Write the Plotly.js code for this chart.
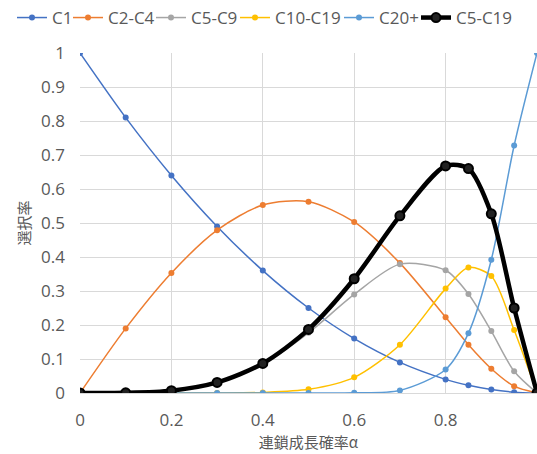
<!DOCTYPE html>
<html><head><meta charset="utf-8">
<script src="https://cdn.plot.ly/plotly-3.0.1.min.js"></script>
<style>html,body{margin:0;padding:0;background:#fff;}#chart{width:537px;height:454px;}</style>
</head><body><div id="chart"></div>
<script>
const alpha = [0, 0.1, 0.2, 0.3, 0.4, 0.5, 0.6, 0.7, 0.8, 0.85, 0.9, 0.95, 1.0];
const c1      = [1.0, 0.81, 0.64, 0.49, 0.36, 0.25, 0.16, 0.09, 0.04, 0.0225, 0.01, 0.0025, 0];
const c2c4    = [0, 0.19, 0.353, 0.479, 0.553, 0.5625, 0.503, 0.382, 0.223, 0.142, 0.0715, 0.02, 0];
const c5c9    = [0, 0.0005, 0.0067, 0.0306, 0.0854, 0.177, 0.29, 0.379, 0.361, 0.291, 0.182, 0.064, 0];
const c10c19  = [0, 0, 0, 0.0001, 0.0017, 0.0107, 0.046, 0.142, 0.307, 0.369, 0.344, 0.185, 0];
const c20p    = [0, 0, 0, 0, 0, 0, 0.0005, 0.0076, 0.069, 0.176, 0.392, 0.728, 1.0];
const c5c19   = [0, 0.0005, 0.0067, 0.031, 0.087, 0.187, 0.336, 0.521, 0.668, 0.66, 0.527, 0.25, 0];
const names   = ['C1', 'C2-C4', 'C5-C9', 'C10-C19', 'C20+', 'C5-C19'];
const series  = [c1, c2c4, c5c9, c10c19, c20p, c5c19];
const colors  = ['#4472C4', '#ED7D31', '#A5A5A5', '#FFC000', '#5B9BD5', '#000000'];
const legendWidths = [11, 38, 39, 59, 32, 60];

const traces = series.map((ys, i) => {
  const bold = i === 5;
  return {
    x: alpha, y: ys, name: names[i], type: 'scatter', mode: 'lines+markers',
    line: {color: colors[i], width: bold ? 4.5 : 1.5, shape: 'spline', smoothing: 0.8},
    marker: bold ? {color: '#222', size: 9, line: {color: '#000', width: 2}} : {color: colors[i], size: 6},
    legendwidth: legendWidths[i],
    cliponaxis: true
  };
});

const fam = '"Open Sans", "Noto Sans CJK JP", sans-serif';
const famJ = '"Noto Sans CJK JP", sans-serif';
const grey = '#595959';
Plotly.newPlot('chart', traces, {
  width: 537, height: 454,
  margin: {l: 80, r: 0, t: 53, b: 61},
  paper_bgcolor: '#fff', plot_bgcolor: '#fff',
  font: {family: fam, size: 16, color: grey},
  showlegend: true,
  legend: {orientation: 'h', x: -68/457, xanchor: 'left', y: 1 + 35/340, yanchor: 'middle', xref: 'paper', yref: 'paper',
           font: {family: fam, size: 17, color: grey}, itemwidth: 30, tracegroupgap: 0},
  xaxis: {range: [0, 1], dtick: 0.2, tick0: 0, showgrid: true, gridcolor: '#D9D9D9', gridwidth: 1,
          zeroline: false, showline: false, ticks: '', ticklabelstandoff: 15,
          tickfont: {family: fam, size: 17, color: grey},
          title: {text: '連鎖成長確率α', font: {family: famJ, size: 15, color: grey}, standoff: 4}},
  yaxis: {range: [0, 1], dtick: 0.1, tick0: 0, showgrid: true, gridcolor: '#D9D9D9', gridwidth: 1,
          zeroline: true, zerolinecolor: '#D9D9D9', showline: false, ticks: '', ticklabelstandoff: 14,
          tickfont: {family: fam, size: 17, color: grey},
          title: {text: '選択率', font: {family: famJ, size: 15, color: grey}, standoff: 6}}
}, {displayModeBar: false, staticPlot: true});
</script>
</body></html>
